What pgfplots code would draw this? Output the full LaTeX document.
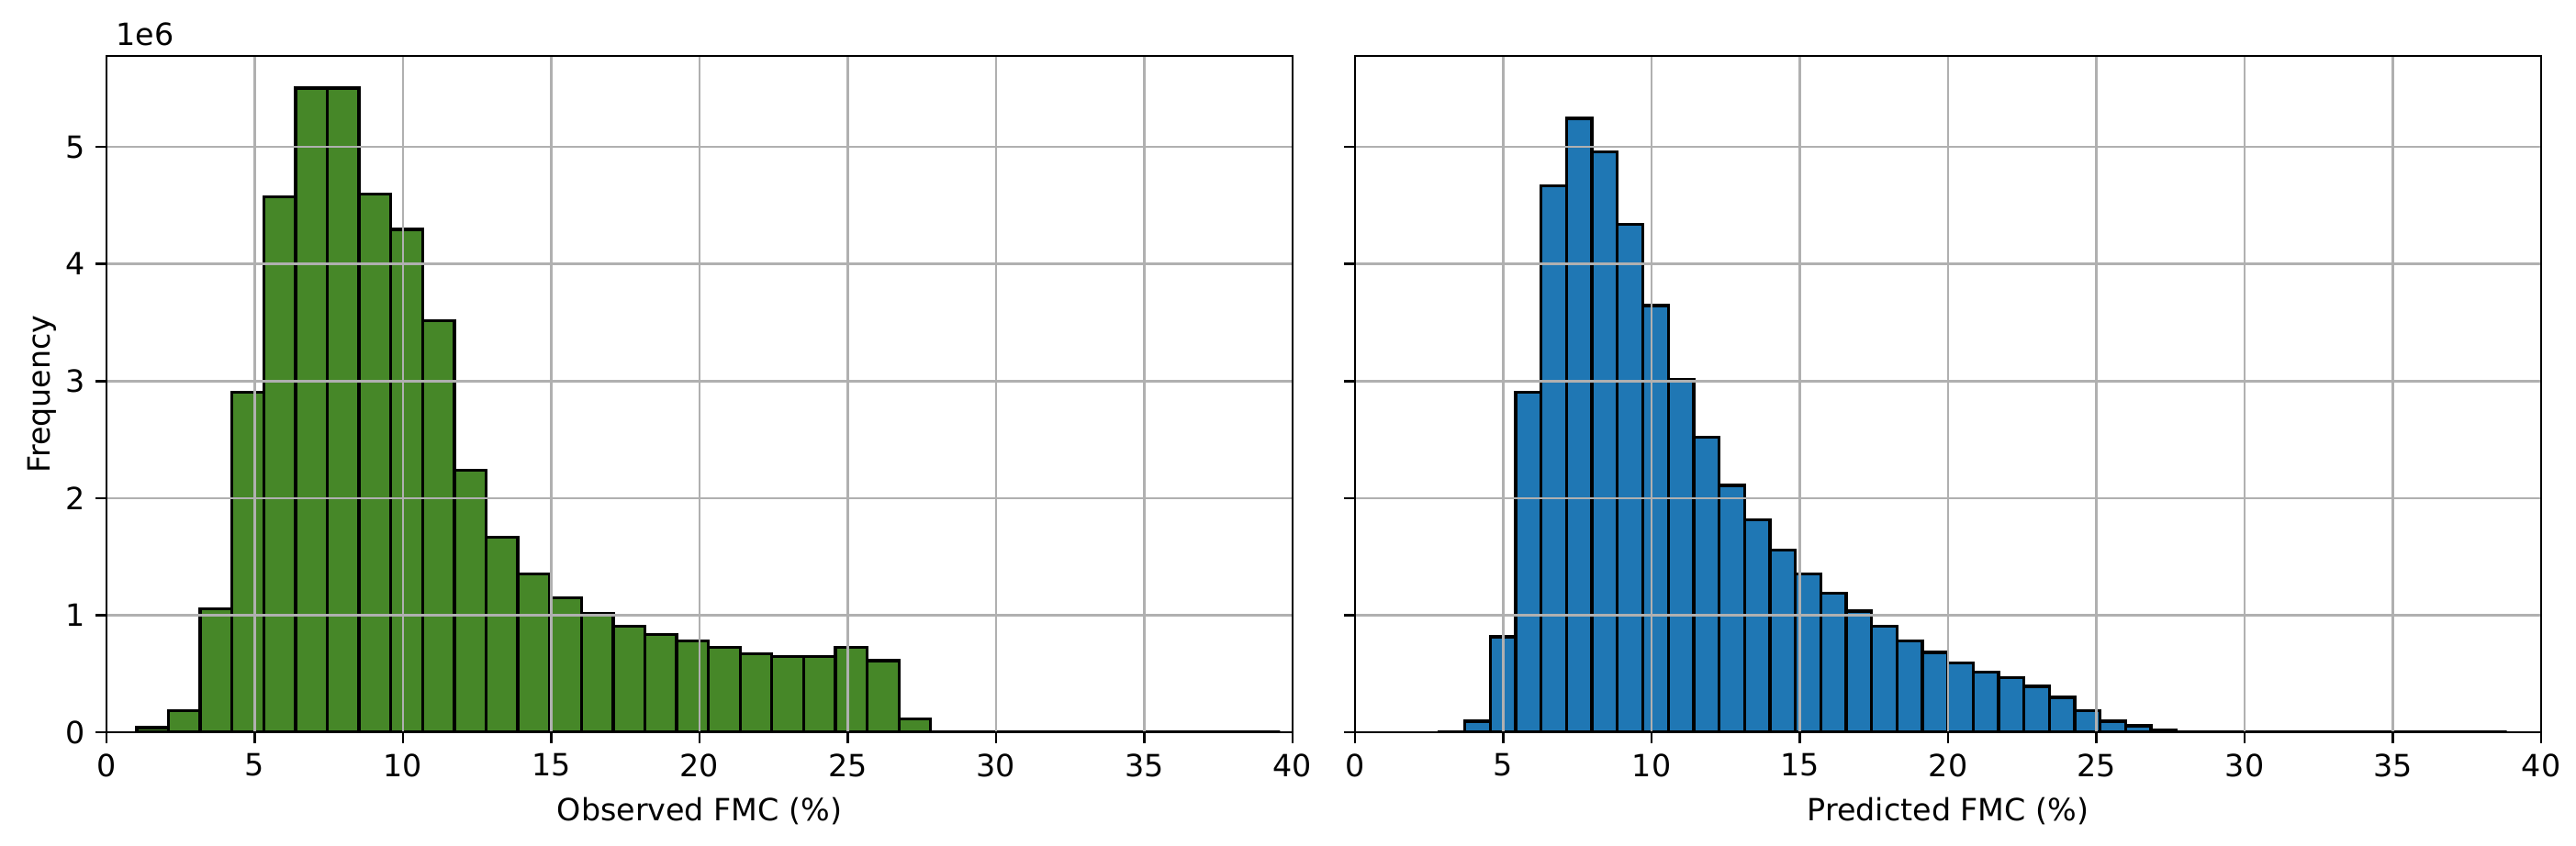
\documentclass[border=0pt]{standalone}
\usepackage{fontspec}
\setmainfont{DejaVu Sans}
\usepackage{pgfplots}
\usepackage{pgfplotstable}
\pgfplotsset{compat=1.18}

\definecolor{obsgreen}{RGB}{70,135,40}
\definecolor{predblue}{HTML}{1F77B4}
\definecolor{gridgrey}{HTML}{B0B0B0}

% histogram bins: left edge, count (millions); last row closes the interval
\pgfplotstableread{
x y
1.020 0.038
2.091 0.184
3.162 1.055
4.233 2.905
5.304 4.576
6.375 5.502
7.446 5.502
8.517 4.595
9.588 4.296
10.659 3.517
11.730 2.238
12.801 1.667
13.872 1.354
14.943 1.146
16.014 1.017
17.085 0.907
18.156 0.833
19.227 0.778
20.298 0.723
21.369 0.668
22.440 0.649
23.511 0.649
24.582 0.723
25.653 0.612
26.724 0.115
27.795 0
28.866 0
29.937 0
31.008 0
32.079 0
33.150 0
34.221 0
35.292 0
36.363 0
37.434 0
38.505 0
39.576 0
}\observed

\pgfplotstableread{
x y
2.850 0.004
3.707 0.094
4.564 0.815
5.421 2.905
6.278 4.668
7.135 5.244
7.992 4.959
8.849 4.337
9.706 3.646
10.563 3.016
11.420 2.518
12.277 2.109
13.134 1.814
13.991 1.556
14.848 1.352
15.705 1.185
16.562 1.035
17.419 0.907
18.276 0.778
19.133 0.681
19.990 0.594
20.847 0.516
21.704 0.465
22.561 0.391
23.418 0.299
24.275 0.184
25.132 0.094
25.989 0.054
26.846 0.020
27.703 0.003
28.560 0.001
29.417 0
30.274 0
31.131 0
31.988 0
32.845 0
33.702 0
34.559 0
35.416 0
36.273 0
37.130 0
37.987 0
38.844 0
}\predicted

\pgfplotsset{histax/.style={
  scale only axis, width=387.6pt, height=221.1pt,
  xmin=0, xmax=40, ymin=0, ymax=5.777,
  xtick={0,5,...,40}, ytick={0,1,2,3,4,5},
  xtick pos=left, ytick pos=left,
  tick align=outside, major tick length=3.5pt,
  tick style={black, line width=0.8pt},
  axis line style={line width=0.8pt},
  grid=major, major grid style={gridgrey, line width=0.8pt},
  axis on top,
  scaled y ticks=false,
  /pgf/number format/assume math mode=true,
  tick label style={font=\fontsize{10}{12}\selectfont},
  label style={font=\fontsize{10}{12}\selectfont},
}}

\begin{document}
\begin{tikzpicture}
\path[use as bounding box] (-34.8pt,-36.9pt) rectangle (807pt,239.4pt);

\begin{axis}[histax, name=obs, at={(0pt,0pt)}, anchor=south west,
  xlabel={Observed FMC (\%)}, ylabel={Frequency}, ylabel shift=-4pt]
  \addplot[ybar interval, fill=obsgreen, draw=black, line width=1pt] table[x=x, y=y] {\observed};
\end{axis}
\node[anchor=south west, font=\fontsize{10}{12}\selectfont, inner sep=3pt] at (obs.north west) {1e6};

\begin{axis}[histax, at={(408pt,0pt)}, anchor=south west,
  xlabel={Predicted FMC (\%)}, yticklabels={}]
  \addplot[ybar interval, fill=predblue, draw=black, line width=1pt] table[x=x, y=y] {\predicted};
\end{axis}
\end{tikzpicture}
\end{document}
